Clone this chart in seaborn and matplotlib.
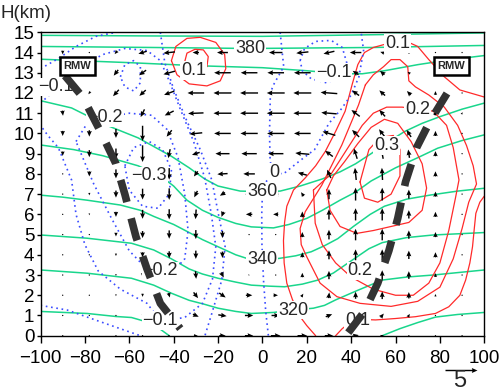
import numpy as np
import pandas as pd
import matplotlib
matplotlib.use("Agg")
import matplotlib.pyplot as plt
import seaborn as sns

# --- wind vectors (radial u, vertical w, arrow units; ref arrow = 5) ---
x_wind = [-90, -78, -66, -54, -42, -30, -18, -6, 6, 18, 30, 42, 54, 66, 78, 90]
z_wind = list(range(16))
u_wind = [
    [0, 0, 0, 0, 0.3, 0.6, 1.0, 1.3, 1.5, 1.5, 1.3, 1.0, 0.5, 0.2, 0, 0],
    [0, 0, 0, 0, 0.3, 0.9, 1.3, 1.3, 1.3, 1.3, 1.0, 0.8, 0.5, 0.3, 0, 0],
    [0, 0, 0, 0, 0.2, 0.7, 1.0, 1.0, 0.7, 0.3, 0.1, 0, 0, 0, 0, 0],
    [0, 0, 0, 0, 0, 0.1, 0.4, 0.2, 0, 0, 0, 0, 0, 0, 0, 0],
    [0, 0, 0, 0, 0, 0, 0, 0, 0, 0, 0, 0, 0, 0, 0, 0],
    [0, 0, 0, 0, 0, 0, 0, -0.1, -0.1, 0, 0, 0, 0, 0, 0, 0],
    [0, 0, 0, 0, 0, -0.1, -0.3, -1.0, -0.8, 0, 0, 0, 0, 0, 0, 0],
    [0, 0, 0, 0, 0, -0.5, -0.8, -1.2, -0.8, -0.4, 0, 0, 0, 0, 0, 0],
    [0, 0, 0, 0, 0, -0.6, -1.6, -1.8, -1.6, -1.4, -0.6, -0.2, -0.1, 0, 0, 0],
    [0, 0, 0, 0, -0.3, -1.2, -2.2, -2.4, -2.4, -2.2, -1.2, -0.5, -0.3, -0.2, 0, 0],
    [0, 0, 0, 0, -0.8, -2.0, -2.6, -2.7, -2.7, -2.6, -2.0, -1.1, -1.0, -0.7, 0, 0],
    [0.1, 0, -0.3, -0.6, -1.4, -2.4, -2.8, -2.8, -2.8, -2.8, -2.4, -1.3, -0.9, -0.4, 0.3, 0.2],
    [0, -0.3, -0.9, -1.0, -1.6, -2.6, -2.8, -2.8, -2.8, -2.8, -2.6, -1.1, -0.9, -0.6, 0, 0],
    [0, -0.2, -0.7, -1.1, -1.8, -2.4, -2.6, -2.6, -2.6, -2.6, -2.4, -0.9, -0.7, -0.4, 0, 0],
    [0, 0, -0.4, -1.3, -1.8, -1.0, -1.7, -2.1, -2.1, -1.9, -1.7, -1.8, -0.6, -0.2, 0, 0],
    [0, 0, 0, 0, 0, 0, 0, 0, 0, 0, 0, 0, 0, 0, 0, 0],
]
w_wind = [
    [0, 0, 0, 0, 0, 0, 0, 0, 0, 0, 0, 0.2, 0.2, 0, 0, 0],
    [-0.1, -0.1, -0.1, -0.3, -0.4, -0.4, -0.2, 0, 0, 0.2, 0.4, 0.6, 0.6, 0.5, 0.2, 0],
    [-0.2, -0.2, -0.3, -0.5, -0.7, -0.9, -0.7, 0, 0, 0.5, 0.9, 1.1, 1.2, 1.0, 0.4, 0.1],
    [-0.2, -0.2, -0.3, -0.6, -0.9, -1.2, -0.8, -0.1, 0, 0.7, 1.3, 1.5, 1.5, 1.2, 0.6, 0.2],
    [-0.2, -0.2, -0.4, -0.8, -1.1, -1.3, -1.0, 0, 0, 0.8, 1.4, 1.7, 1.7, 1.3, 0.8, 0.2],
    [-0.2, -0.2, -0.6, -1.1, -1.3, -1.4, -1.1, -0.1, 0, 0.8, 1.5, 1.8, 1.8, 1.3, 0.8, 0.2],
    [-0.2, -0.3, -0.8, -1.4, -1.6, -1.5, -0.8, 0, 0, 0.9, 1.6, 1.9, 1.9, 1.3, 0.8, 0.2],
    [-0.2, -0.4, -1.1, -1.7, -1.8, -1.0, -0.5, 0, 0, 0.6, 1.6, 2.0, 2.0, 1.4, 0.8, 0.2],
    [-0.2, -0.8, -1.4, -2.0, -1.8, -0.8, -0.1, 0, 0, 0.4, 1.3, 1.9, 1.9, 1.4, 0.8, 0.2],
    [-0.7, -1.1, -1.6, -2.6, -1.4, -0.4, 0, 0, 0, 0.2, 0.9, 1.6, 1.6, 1.3, 0.8, 0.2],
    [-0.8, -1.0, -1.4, -2.4, -1.0, -0.2, 0, 0, 0, 0, 0.6, 1.1, 1.3, 1.1, 0.8, 0.2],
    [-0.8, -0.6, -1.1, -1.2, -0.7, -0.1, 0, 0, 0, 0, 0.2, 1.0, 1.0, 0.8, 0.6, 0.3],
    [-0.5, -0.4, -1.0, -0.9, -0.6, 0, 0, 0, 0, 0, 0.2, 0.8, 0.8, 0.6, 0.6, 0.2],
    [0, -0.3, -0.9, -0.8, -0.5, 0, 0, 0, 0, 0, 0, 0.6, 0.6, 0.3, 0.2, 0],
    [-0.6, -0.1, -0.5, -0.4, -0.2, 0, 0, 0, 0, -0.2, -0.4, 0, 0.2, 0.3, 0.1, 0],
    [0, 0, 0, 0, 0, 0, 0, 0, 0, 0, 0, 0, 0, 0, 0, 0],
]

# --- potential temperature isolines (x km, height km) ---
theta_390 = [(-100, 14.85), (-50, 14.82), (0, 14.8), (50, 14.88), (100, 14.97)]
theta_380 = [(-100, 14.3), (-50, 14.25), (-5, 14.2), (50, 14.25), (100, 14.35)]
theta_370 = [(-100, 13.67), (-60, 13.5), (-30, 13.35), (0, 13.25), (20, 13.1), (35, 12.95),
             (45, 12.95), (55, 13.1), (70, 13.4), (85, 13.65), (100, 13.85)]
theta_360 = [(-100, 11.62), (-86, 11.26), (-71, 10.44), (-56, 9.78), (-41, 8.87), (-33, 8.3),
             (-26, 7.75), (-20, 7.4), (-10, 7.15), (0, 7.12), (8, 7.15), (17, 7.4), (27, 7.75),
             (35, 8.1), (42, 8.5), (49, 9.0), (57, 9.6), (64, 10.09), (72, 10.5), (80, 10.83),
             (90, 11.2), (100, 11.5)]
theta_350 = [(-100, 9.43), (-85, 9.2), (-72, 8.9), (-56, 8.4), (-46, 7.9), (-40, 7.4), (-34, 6.7),
             (-27, 6.2), (-20, 5.85), (-12, 5.55), (-5, 5.38), (5, 5.33), (12, 5.5), (20, 5.8),
             (27, 6.2), (35, 6.7), (42, 7.1), (49, 7.65), (60, 8.3), (70, 8.8), (79, 9.27),
             (90, 9.65), (100, 9.93)]
theta_340 = [(-100, 6.95), (-90, 6.85), (-79, 6.7), (-64, 6.46), (-55, 6.2), (-49, 5.9), (-40, 5.5),
             (-33, 5.1), (-27, 4.75), (-20, 4.4), (-12, 4.0), (-5, 3.75), (0, 3.72), (8, 3.83),
             (15, 3.95), (22, 4.15), (28, 4.45), (34, 4.8), (41, 5.4), (48.6, 6.0), (55, 6.4),
             (65, 6.75), (76, 6.96), (88, 7.15), (100, 7.29)]
theta_330 = [(-100, 4.98), (-79, 4.82), (-59, 4.57), (-49, 4.24), (-41, 3.8), (-33, 3.3),
             (-27, 3.05), (-20, 2.84), (-12, 2.65), (-5, 2.5), (3, 2.45), (10, 2.42), (18, 2.55),
             (25, 2.75), (32, 3.1), (40, 3.7), (48, 4.3), (54, 4.6), (65, 4.85), (77, 4.98),
             (100, 5.1)]
theta_320 = [(-100, 3.25), (-79, 3.09), (-59, 2.84), (-49, 2.5), (-41, 2.1), (-33, 1.75),
             (-26, 1.55), (-20, 1.36), (-12, 1.2), (-5, 1.1), (5, 1.15), (14, 1.27), (23, 1.36),
             (28, 1.5), (33, 1.77), (42, 2.2), (54, 2.75), (65, 2.9), (77, 3.0), (100, 3.25)]
theta_310_left = [(-100, 1.2), (-79, 1.1), (-66, 0.95), (-59, 0.9), (-51, 0.65), (-47, 0.4), (-42, 0)]
theta_310_right = [(54, 0), (62, 0.35), (70, 0.65), (78, 0.92), (88, 1.05), (100, 1.15)]

# --- vertical velocity isolines, positive (m/s) ---
w_p10_big = [(24, 0), (20, 0.5), (17, 0.94), (13.5, 1.8), (11, 2.6), (9.8, 3.6), (9.5, 4.7),
             (10, 5.6), (11, 6.4), (14, 7.2), (19.3, 7.8), (24, 8.4), (28.3, 9.1), (33, 10.1),
             (37.3, 11.1), (40.4, 12.4), (43, 13.4), (46, 14.0), (50, 14.25), (55, 14.4),
             (61, 14.45), (67, 14.45), (70, 14.3), (75, 13.65), (82, 12.8), (89, 12.15), (100, 11.8)]
w_p10_low = [(33, 0), (36, 0.35), (40, 0.7), (46, 0.8), (51, 0.78), (60, 0.85), (69, 0.94),
             (78, 1.1), (84, 1.43), (89, 2.0), (91.6, 2.75), (93.5, 3.6), (94.7, 4.4), (95.5, 5.3),
             (96.2, 6.05), (98, 6.6), (100, 6.9)]
w_p10_top = [(-41, 13.6), (-39, 14.3), (-34, 14.7), (-28, 14.75), (-21, 14.5), (-17, 13.9),
             (-16.5, 13.2), (-19, 12.6), (-25, 12.35), (-33, 12.45), (-38.5, 12.9), (-41, 13.6)]
w_p15_top = [(-35, 13.55), (-34, 13.97), (-30.4, 14.16), (-26.6, 14.13), (-24.4, 13.8),
             (-25, 13.3), (-29, 13.1), (-33, 13.2), (-35, 13.55)]
w_p15 = [(46.4, 12.4), (43.3, 11.4), (35.8, 9.43), (26.8, 7.45), (19.3, 6.13), (17, 5.3),
         (17.5, 4.5), (20, 3.9), (26, 2.6), (33.6, 1.93), (44, 1.6), (58, 1.45), (70, 1.7),
         (80, 2.4), (86, 3.8), (90, 5.3), (93, 6.6), (96.5, 7.5), (95, 8.4), (92, 9.4), (88, 10.4),
         (82, 11.3), (75, 11.9), (69, 12.3), (66, 12.6), (65.5, 13.3), (62, 13.65), (58, 13.65),
         (54.6, 13.3), (50, 12.9), (46.4, 12.4)]
w_p20 = [(23, 7.2), (23.8, 5.56), (27, 4.5), (33, 3.6), (40, 2.9), (50, 2.3), (60, 2.0), (68, 2.0),
         (75, 2.6), (80, 3.6), (84, 5.2), (87, 6.8), (88.6, 7.7), (86, 9.3), (83, 10.4), (77, 11.1),
         (70, 11.2), (63, 11.3), (56, 11.3), (50, 11.0), (45, 10.4), (38, 9.2), (31, 8.0), (26, 7.5),
         (23, 7.2)]
w_p25 = [(29, 7.2), (30.5, 6.2), (35, 5.4), (42.6, 5.06), (50, 5.2), (58, 5.4), (66, 5.6), (72, 6.2),
         (74, 7.3), (72, 8.5), (67, 9.6), (61, 10.5), (55, 10.7), (49, 10.3), (43, 9.5), (37, 8.6),
         (32, 7.9), (29, 7.2)]
w_p30 = [(44, 7.6), (46, 6.8), (52, 6.6), (58, 7.0), (62, 7.9), (62, 9.2), (59, 9.9), (53, 9.8),
         (48, 9.2), (44, 7.6)]

# --- vertical velocity isolines, zero and negative ---
w_zero_a = [(8, 15), (9.6, 13.3), (5, 12.4), (3.6, 12.0), (3.2, 10.0), (3.5, 8.6), (5.5, 8.05)]
w_zero_b = [(5.5, 8.05), (1.5, 7.6), (0, 7.0), (-0.3, 6.0), (-0.2, 4.5), (0.5, 2.75), (1.5, 1.2),
            (2.7, 0)]
w_zero_c = [(5.5, 8.05), (9.5, 8.0), (16.3, 8.6), (23.5, 9.2), (30, 10.5), (35.5, 11.2),
            (40, 11.9), (43.5, 12.8), (45.6, 14.1), (44.5, 15)]
w_m10_top = [(17, 13.6), (19, 14.2), (24, 14.55), (31, 14.6), (36, 14.25), (38, 13.5), (35, 12.8),
             (29, 12.5), (22, 12.7), (18, 13.1), (17, 13.6)]
w_m05_arc = [(-100, 13.2), (-92, 13.7), (-84, 14.3), (-75, 14.8), (-66, 15.0)]
w_m05_diag = [(-46, 15), (-44, 13.5), (-40, 12.2), (-34, 10.6), (-28, 9.2), (-22.8, 7.7),
              (-19.9, 6.05), (-16.8, 4.4), (-18.3, 2.75), (-22.8, 1.1), (-25.9, 0)]
w_m05_low = [(-100, 1.5), (-88, 1.27), (-73, 0.69), (-55, 0)]
w_m10_left = [(-100, 11.5), (-96, 11.9), (-93, 12.3), (-88, 12.7), (-80, 13.4), (-72, 13.9),
              (-62, 14.2), (-52, 14.1), (-46, 13.6), (-42, 12.6), (-37, 11.2), (-31, 9.6),
              (-26, 7.8), (-23, 6.0), (-21, 4.4), (-22.5, 2.8), (-27, 1.6), (-35, 0.9), (-41, 0.8),
              (-46, 0.75), (-52, 1.6), (-64, 2.3), (-74, 3.2), (-80, 4.5), (-84, 6.0), (-86, 7.7),
              (-89, 8.5), (-92, 9.3), (-96.7, 9.9), (-100, 10.4)]
w_m15_loop = [(-64, 12.8), (-62, 13.4), (-58, 13.6), (-55, 13.3), (-55, 12.5), (-58, 12.1),
              (-62, 12.3), (-64, 12.8)]
w_m20_left = [(-84, 9.6), (-79, 10.5), (-70, 10.8), (-60, 11.0), (-50, 10.9), (-43, 10.2),
              (-38, 8.8), (-35, 7), (-33.5, 5.2), (-35, 3.8), (-40, 3.2), (-46, 3.2), (-53, 3.4),
              (-60, 4.2), (-68, 5.8), (-76, 7.5), (-84, 9.6)]
w_m30_left = [(-62, 8.4), (-58, 9.3), (-51, 9.6), (-45, 9.2), (-41, 8.2), (-42, 7.0), (-47, 6.3),
              (-54, 6.4), (-60, 7.2), (-62, 8.4)]

# --- labels ---
theta_labels = [("380", -5.5, 14.2), ("360", 0, 7.15), ("340", 0, 3.75), ("320", 14, 1.27)]
w_labels = [("0.1", -31, 13.1), ("0.1", 61, 14.45), ("0.2", 70, 11.2), ("0.3", 56, 9.4),
            ("0.2", 44, 3.2), ("0.1", 43, 0.75), ("\u22120.1", -93, 12.3), ("\u22120.2", -71, 10.8),
            ("\u22120.3", -51, 7.9), ("\u22120.2", -46, 3.2), ("\u22120.1", -46, 0.75),
            ("\u22120.1", 32, 13.0), ("0", 5.5, 8.05)]

# --- radius of maximum wind ---
rmw_left = [(-89, 12.85), (-81, 11.8), (-73, 10.1), (-66, 8.5), (-62, 7.0), (-57, 4.9),
            (-52, 3.3), (-46, 1.6), (-37, 0.35)]
rmw_right = [(38.7, 0.15), (46, 1.2), (52, 2.6), (57, 4.2), (61, 5.8), (64.5, 7.6), (69.5, 9.3),
             (75.5, 10.6), (85, 12.3)]
rmw_boxes = [(-83.4, 13.34), (85.2, 13.34)]

sns.set_theme(style="white")
plt.rcParams["font.family"] = ["Liberation Sans", "DejaVu Sans"]

fig = plt.figure(figsize=(5.02, 3.92), dpi=100)
ax = fig.add_axes([0.0807, 0.1436, 0.884, 0.7740])

GREEN = "#19d68c"
RED = "#ff2a2a"
BLUE = "#3a4cff"


def draw(pts, color, ls="-", lw=1.0):
    df = pd.DataFrame(pts, columns=["x", "z"])
    sns.lineplot(data=df, x="x", y="z", sort=False, estimator=None, color=color,
                 linestyle=ls, linewidth=lw, ax=ax, legend=False, zorder=2)


for line in [theta_390, theta_380, theta_370, theta_360, theta_350, theta_340, theta_330,
             theta_320, theta_310_left, theta_310_right]:
    draw(line, GREEN, lw=1.1)

for line in [w_p10_big, w_p10_low, w_p10_top, w_p15_top, w_p15, w_p20, w_p25, w_p30]:
    draw(line, RED, lw=0.9)

for line in [w_zero_a, w_zero_b, w_zero_c, w_m10_top, w_m05_arc, w_m05_diag, w_m05_low,
             w_m10_left, w_m15_loop, w_m20_left, w_m30_left]:
    draw(line, BLUE, ls=(0, (1, 2.2)), lw=1.2)

X, Z = np.meshgrid(x_wind, z_wind)
q = ax.quiver(X, Z, np.array(u_wind), np.array(w_wind), pivot="middle", angles="uv",
              scale_units="dots", scale=5 / 32, width=0.0032, headwidth=3.5,
              headlength=4, headaxislength=3.6, color="black", zorder=3)
ax.quiverkey(q, X=0.919, Y=0.056, U=5, label="", coordinates="figure")
fig.text(0.916, 0.028, "5", fontsize=17, ha="center", va="center")

label_box = dict(boxstyle="square,pad=0.05", fc="white", ec="none")
for s, x, z in theta_labels + w_labels:
    ax.text(x, z, s, fontsize=13, ha="center", va="center", bbox=label_box, zorder=4)

for line in [rmw_left, rmw_right]:
    arr = np.array(line)
    ax.plot(arr[:, 0], arr[:, 1], color="#333333", lw=5.5, dashes=(3.0, 2.2),
            solid_capstyle="butt", dash_capstyle="butt", zorder=5)
for x, z in rmw_boxes:
    ax.text(x, z, "RMW", fontsize=8, fontweight="bold", ha="center", va="center", zorder=6,
            bbox=dict(boxstyle="square,pad=0.35", fc="white", ec="black", lw=1.8))

ax.set_xlim(-100, 100)
ax.set_ylim(0, 15)
ax.set_xticks(range(-100, 101, 20))
ax.set_yticks(range(0, 16))
ax.set_xlabel("")
ax.set_ylabel("")
ax.tick_params(axis="both", direction="out", width=1, labelsize=13.5,
               bottom=True, left=True, colors="black")
ax.tick_params(axis="x", length=5, pad=5.5)
ax.tick_params(axis="y", length=3, pad=1.5)
for sp in ax.spines.values():
    sp.set_color("black")
    sp.set_linewidth(1.0)
fig.text(0.0, 0.988, "H(km)", fontsize=13.5, ha="left", va="top")

fig.savefig("out.png", dpi=100)
